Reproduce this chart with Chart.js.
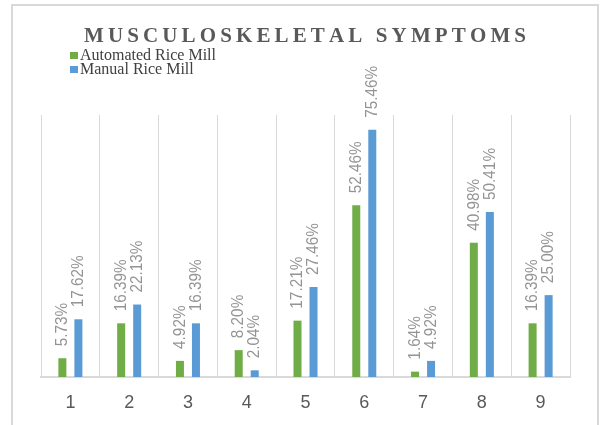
<!DOCTYPE html>
<html>
<head>
<meta charset="utf-8">
<script src="https://cdn.jsdelivr.net/npm/chart.js@4"></script>
<style>
  html, body { margin: 0; padding: 0; background: #ffffff; }
  #wrap { width: 600px; height: 425px; position: relative; }
</style>
</head>
<body>
<div id="wrap"><canvas id="c"></canvas></div>
<script>
const categories = ['1', '2', '3', '4', '5', '6', '7', '8', '9'];
const automatedRiceMill = [5.73, 16.39, 4.92, 8.20, 17.21, 52.46, 1.64, 40.98, 16.39];
const manualRiceMill = [17.62, 22.13, 16.39, 2.04, 27.46, 75.46, 4.92, 50.41, 25.00];
const seriesNames = ['Automated Rice Mill', 'Manual Rice Mill'];
const titleText = 'MUSCULOSKELETAL SYMPTOMS';
const yMax = 80;

const GREEN = '#70ad47';
const BLUE = '#5b9bd5';

const decorPlugin = {
  id: 'decor',
  beforeDraw(chart) {
    const ctx = chart.ctx;
    ctx.save();
    ctx.fillStyle = '#ffffff';
    ctx.fillRect(0, 0, chart.width, chart.height);
    ctx.strokeStyle = '#d9d9d9';
    ctx.lineWidth = 2;
    ctx.strokeRect(12, 5, 586, 440);
    ctx.restore();
  },
  afterDraw(chart) {
    const ctx = chart.ctx;
    ctx.save();
    // Title with letter spacing
    ctx.font = 'bold 21px "Liberation Serif", "Times New Roman", serif';
    ctx.fillStyle = '#595959';
    ctx.textBaseline = 'alphabetic';
    ctx.textAlign = 'left';
    const chars = titleText.split('');
    const natural = chars.reduce((s, ch) => s + ctx.measureText(ch).width, 0);
    const left = 84, right = 526;
    const spacing = (right - left - natural) / (chars.length - 1);
    let x = left;
    chars.forEach(ch => {
      ctx.fillText(ch, x, 42);
      x += ctx.measureText(ch).width + spacing;
    });
    // Legend
    ctx.font = '16px "Liberation Serif", "Times New Roman", serif';
    ctx.textBaseline = 'middle';
    const legendColors = [GREEN, BLUE];
    seriesNames.forEach((name, i) => {
      const y = 56 + i * 14;
      ctx.fillStyle = legendColors[i];
      ctx.fillRect(70, y - 4, 8, 7);
      ctx.fillStyle = '#404040';
      ctx.fillText(name, 80, y);
    });
    ctx.restore();
  },
  afterDatasetsDraw(chart) {
    const ctx = chart.ctx;
    ctx.save();
    ctx.font = '300 17px "Liberation Sans Narrow", "Arial Narrow", "Liberation Sans", sans-serif';
    ctx.fillStyle = '#949494';
    ctx.textAlign = 'left';
    ctx.textBaseline = 'middle';
    chart.data.datasets.forEach((ds, di) => {
      const meta = chart.getDatasetMeta(di);
      meta.data.forEach((bar, i) => {
        const v = ds.data[i];
        ctx.save();
        ctx.translate(bar.x, bar.y - 12);
        ctx.rotate(-Math.PI / 2);
        ctx.scale(0.9, 1);
        ctx.fillText(v.toFixed(2) + '%', 0, 0);
        ctx.restore();
      });
    });
    ctx.restore();
  }
};

new Chart(document.getElementById('c'), {
  type: 'bar',
  data: {
    labels: categories,
    datasets: [
      { label: seriesNames[0], data: automatedRiceMill, backgroundColor: GREEN },
      { label: seriesNames[1], data: manualRiceMill, backgroundColor: BLUE }
    ]
  },
  options: {
    responsive: true,
    maintainAspectRatio: false,
    animation: false,
    datasets: { bar: { categoryPercentage: 0.545, barPercentage: 0.5 } },
    layout: { padding: { left: 41, right: 30, top: 115, bottom: 0 } },
    plugins: {
      legend: { display: false },
      title: { display: false },
      tooltip: { enabled: false }
    },
    scales: {
      x: {
        grid: { display: true, color: '#d9d9d9', lineWidth: 1, drawTicks: false, offset: true },
        border: { display: true, color: '#d9d9d9', width: 2 },
        ticks: {
          color: '#595959',
          font: { family: '"Liberation Sans", Arial, sans-serif', size: 18 },
          padding: 15
        },
        afterFit(scale) { scale.height = 48; }
      },
      y: {
        display: false,
        min: 0,
        max: yMax
      }
    }
  },
  plugins: [decorPlugin]
});
</script>
</body>
</html>
